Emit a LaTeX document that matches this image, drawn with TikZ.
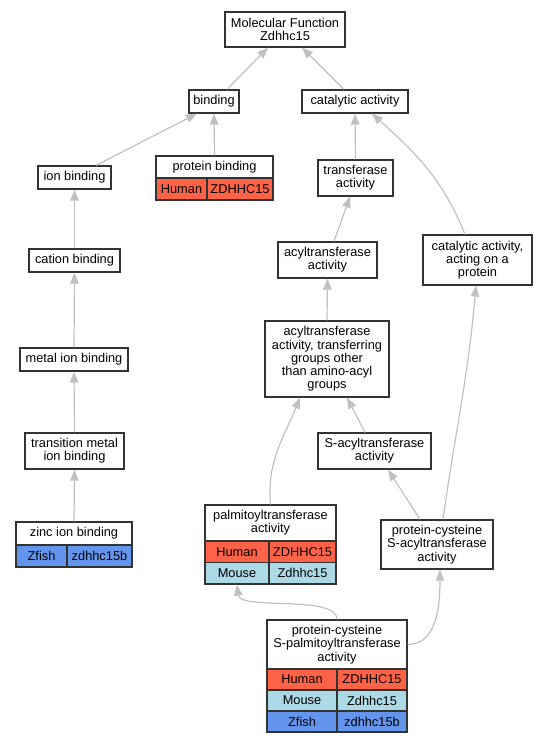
\documentclass[tikz,border=0pt]{standalone}
\usepackage{fontspec}
\setmainfont{Liberation Sans}
\usetikzlibrary{arrows.meta}
\newcommand\lbl{\fontsize{12.8}{13.3}\selectfont}
\definecolor{human}{HTML}{FF6347}
\definecolor{mouse}{HTML}{ADD8E6}
\definecolor{zfish}{HTML}{6495ED}
\definecolor{edgegray}{HTML}{C0C0C0}
\tikzset{
  box/.style={draw=black!80, line width=1.2pt, fill=white, inner sep=0pt, align=center, font=\lbl},
  hcell/.style={box, fill=human},
  mcell/.style={box, fill=mouse},
  zcell/.style={box, fill=zfish},
  edge/.style={draw=edgegray, line width=1.2pt, -{Triangle[length=11pt,width=8.5pt]}},
}
\begin{document}
\begin{tikzpicture}[x=1pt,y=1pt]
\useasboundingbox (0,0) rectangle (547,-744);
% nodes
\node[box, minimum width=120, minimum height=35] (mf) at (285,-29.5) {Molecular Function\\Zdhhc15};
\node[box, minimum width=50, minimum height=23] (bind) at (214,-101.5) {binding};
\node[box, minimum width=106, minimum height=23] (cat) at (355,-101.5) {catalytic activity};
% protein binding table
\node[box, minimum width=117, minimum height=22] (pb) at (214.5,-167) {protein binding};
\node[hcell, minimum width=51, minimum height=22] (pbh) at (181.5,-189) {Human};
\node[hcell, minimum width=66, minimum height=22] (pbhg) at (240,-189) {ZDHHC15};
% left chain
\node[box, minimum width=73, minimum height=23] (ion) at (74.5,-177.5) {ion binding};
\node[box, minimum width=91, minimum height=23] (cation) at (74.5,-260.5) {cation binding};
\node[box, minimum width=108, minimum height=23] (metal) at (74,-359.5) {metal ion binding};
\node[box, minimum width=99, minimum height=36] (tmetal) at (74.5,-451) {transition metal\\ion binding};
\node[box, minimum width=116, minimum height=23] (zinc) at (74,-533.5) {zinc ion binding};
\node[zcell, minimum width=51, minimum height=22] (zincz) at (41.5,-556) {Zfish};
\node[zcell, minimum width=65, minimum height=22] (zinczg) at (99.5,-556) {zdhhc15b};
% right
\node[box, minimum width=75, minimum height=36] (transf) at (355.5,-178) {transferase\\activity};
\node[box, minimum width=99, minimum height=36] (acyl) at (327.5,-260) {acyltransferase\\activity};
\node[box, minimum width=124, minimum height=76] (acylo) at (327,-359) {acyltransferase\\activity, transferring\\groups other\\than amino-acyl\\groups};
\node[box, minimum width=113, minimum height=36] (sacyl) at (374.5,-451) {S-acyltransferase\\activity};
\node[box, minimum width=109, minimum height=50] (catprot) at (477.5,-260) {catalytic activity,\\acting on a\\protein};
% palmitoyltransferase table
\node[box, minimum width=131, minimum height=36] (palm) at (270.5,-523) {palmitoyltransferase\\activity};
\node[hcell, minimum width=64, minimum height=21.5] (palmh) at (237,-551.75) {Human};
\node[hcell, minimum width=67, minimum height=21.5] (palmhg) at (302.5,-551.75) {ZDHHC15};
\node[mcell, minimum width=64, minimum height=21.5] (palmm) at (237,-573.25) {Mouse};
\node[mcell, minimum width=67, minimum height=21.5] (palmmg) at (302.5,-573.25) {Zdhhc15};
% protein-cysteine S-acyltransferase
\node[box, minimum width=112, minimum height=49] (pcs) at (437,-544.5) {protein-cysteine\\S-acyltransferase\\activity};
% S-palmitoyltransferase table
\node[box, minimum width=140, minimum height=49] (spalm) at (337,-644.5) {protein-cysteine\\S-palmitoyltransferase\\activity};
\node[hcell, minimum width=70, minimum height=21] (sph) at (302,-679.5) {Human};
\node[hcell, minimum width=70, minimum height=21] (sphg) at (372,-679.5) {ZDHHC15};
\node[mcell, minimum width=70, minimum height=21] (spm) at (302,-700.5) {Mouse};
\node[mcell, minimum width=70, minimum height=21] (spmg) at (372,-700.5) {Zdhhc15};
\node[zcell, minimum width=70, minimum height=21] (spz) at (302,-721.5) {Zfish};
\node[zcell, minimum width=70, minimum height=21] (spzg) at (372,-721.5) {zdhhc15b};
% edges
\draw[edge] ([xshift=13pt]bind.north) -- ([xshift=-17pt]mf.south);
\draw[edge] ([xshift=-11pt]cat.north) -- ([xshift=17pt]mf.south);
\draw[edge] ([xshift=21.5pt]ion.north) -- ([xshift=-17pt]bind.south);
\draw[edge] (pb.north) -- (bind.south);
\draw[edge] (transf.north) -- (cat.south);
\draw[edge] ([xshift=-12.5pt]catprot.north) to[out=112,in=-42] ([xshift=17pt]cat.south);
\draw[edge] (cation.north) -- (ion.south);
\draw[edge] (metal.north) -- (cation.south);
\draw[edge] (tmetal.north) -- (metal.south);
\draw[edge] (zinc.north) -- (tmetal.south);
\draw[edge] ([xshift=6.5pt]acyl.north) -- ([xshift=-5.5pt]transf.south);
\draw[edge] (acylo.north) -- (acyl.south);
\draw[edge] ([xshift=-9.5pt]sacyl.north) -- ([xshift=20pt]acylo.south);
\draw[edge] (palm.north) to[out=95,in=-112] ([xshift=-27pt]acylo.south);
\draw[edge] ([xshift=-17pt]pcs.north) -- ([xshift=13.5pt]sacyl.south);
\draw[edge] ([xshift=6pt]pcs.north) to[out=82,in=-95] ([xshift=-1.5pt]catprot.south);
\draw[edge] (spalm.north) .. controls +(0,25) and +(3,-26) .. (palmm.south);
\draw[edge] (spalm.east) .. controls +(28,0) and +(0,-40) .. ([xshift=3pt]pcs.south);
\end{tikzpicture}
\end{document}
